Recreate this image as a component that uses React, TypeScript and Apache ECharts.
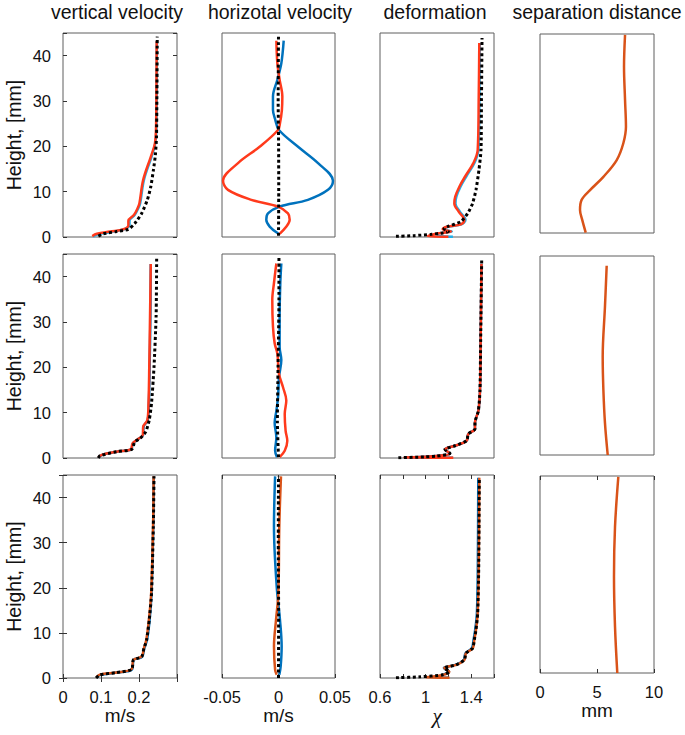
import React, { useEffect, useRef } from "react";
import * as echarts from "echarts";

// ---------- texts ----------
const columnTitles = ["vertical velocity", "horizotal velocity", "deformation", "separation distance"];
const heightLabel = "Height, [mm]";
const xAxisNames = ["m/s", "m/s", "χ", "mm"];
const heightTickLabels = ["0", "10", "20", "30", "40"];
const vvTickLabels = ["0", "0.1", "0.2"];
const hvTickLabels = ["-0.05", "0", "0.05"];
const defTickLabels = ["0.6", "1", "1.4"];
const sepTickLabels = ["0", "5", "10"];

// ---------- data: [value, height mm] ----------
// Row 1
const r1VvBlue = [[0.079, 0.1], [0.092, 0.6], [0.127, 1.1], [0.161, 1.7], [0.175, 2.6], [0.175, 3.6], [0.189, 4.9], [0.198, 6.3], [0.203, 7.4], [0.213, 12.6], [0.233, 17.7], [0.243, 20.7], [0.246, 25], [0.247, 35], [0.247, 43.2]];
const r1VvRed = [[0.077, 0.2], [0.089, 0.7], [0.124, 1.2], [0.159, 1.7], [0.172, 2.6], [0.172, 3.6], [0.187, 4.9], [0.196, 6.3], [0.201, 7.4], [0.211, 12.6], [0.231, 17.7], [0.242, 20.7], [0.245, 25], [0.246, 35], [0.2465, 43.2]];
const r1VvRef = [[0.093, 0.2], [0.106, 0.7], [0.141, 1.2], [0.172, 1.7], [0.189, 3.0], [0.207, 5.2], [0.222, 8.2], [0.231, 11.1], [0.238, 14.8], [0.243, 18], [0.246, 22], [0.247, 30], [0.248, 44.2]];

const r1HvBlue = [[0.0001, 0.7], [-0.0078, 2.3], [-0.0108, 3.8], [-0.0093, 5.2], [0.001, 6.7], [0.026, 8.2], [0.0438, 10.4], [0.0482, 12.4], [0.035, 16.3], [0.0173, 19.9], [0.0004, 23.6], [-0.0028, 25.8], [-0.0049, 28.0], [-0.0049, 31.0], [-0.001, 34.7], [0.0025, 38.3], [0.0046, 43.3]];
const r1HvRed = [[0.001, 0.7], [0.007, 2.3], [0.0099, 3.8], [0.0084, 5.2], [-0.0004, 6.7], [-0.024, 8.2], [-0.0447, 10.4], [-0.0491, 12.4], [-0.0358, 16.3], [-0.0167, 19.9], [-0.0004, 23.6], [0.0013, 25.1], [0.003, 28.0], [0.0034, 31.0], [0.001, 34.7], [-0.001, 38.3], [-0.0019, 43.3]];
const r1HvRef = [[0, 0.3], [0.0002, 10], [0.0001, 20], [-0.0003, 30], [0, 44.7]];

const r1DefBlue = [[1.24, 0.05], [1.12, 0.2], [1.1, 0.7], [1.23, 1.2], [1.16, 1.7], [1.2, 2.3], [1.315, 2.8], [1.35, 3.8], [1.3, 5.6], [1.262, 7.4], [1.27, 8.9], [1.306, 11.1], [1.358, 13.4], [1.428, 16.3], [1.463, 19.2], [1.472, 31], [1.475, 42.8]];
const r1DefRed = [[1.2, 0.05], [1.02, 0.15], [1.09, 0.7], [1.223, 1.2], [1.15, 1.7], [1.194, 2.3], [1.31, 2.8], [1.34, 3.8], [1.29, 5.6], [1.252, 7.4], [1.26, 8.9], [1.296, 11.1], [1.348, 13.4], [1.419, 16.3], [1.457, 19.2], [1.466, 31.0], [1.471, 42.8]];
const r1DefRef = [[0.74, 0.15], [0.9, 0.3], [1.05, 0.6], [1.15, 0.9], [1.2, 1.2], [1.16, 1.8], [1.194, 2.3], [1.31, 3.4], [1.369, 5.2], [1.412, 7.4], [1.442, 10.4], [1.468, 14.8], [1.486, 19.2], [1.49, 30], [1.495, 43.9]];

const r1Sep = [[4.01, 0.1], [3.71, 2.9], [3.51, 5.2], [3.65, 7.5], [4.39, 9.7], [5.56, 12.7], [6.73, 16.5], [7.31, 20.3], [7.54, 24.0], [7.46, 30.1], [7.37, 37.6], [7.46, 44.8]];

// Row 2
const r2VvBlue = [[0.094, 0.15], [0.103, 0.7], [0.142, 1.4], [0.179, 1.9], [0.184, 3.2], [0.197, 4.1], [0.211, 5.1], [0.212, 6.9], [0.223, 8.4], [0.226, 12.1], [0.228, 20.1], [0.23, 31.2], [0.231, 42.8]];
const r2VvRed = [[0.093, 0.15], [0.102, 0.7], [0.141, 1.4], [0.178, 1.9], [0.183, 3.2], [0.196, 4.1], [0.21, 5.1], [0.211, 6.9], [0.222, 8.4], [0.225, 12.1], [0.227, 20.1], [0.229, 31.2], [0.231, 42.8]];
const r2VvRef = [[0.093, 0], [0.097, 0.5], [0.141, 1.4], [0.181, 1.9], [0.189, 3.6], [0.203, 4.3], [0.218, 5.8], [0.227, 8.4], [0.233, 12.1], [0.2395, 20.1], [0.245, 31.2], [0.2465, 44.1]];

const r2HvBlue = [[-0.0013, 0.2], [-0.003, 1.6], [-0.0019, 4.5], [-0.0034, 7.8], [-0.0019, 10.4], [-0.0004, 13.4], [0.0004, 17.8], [0.0025, 21.6], [0.001, 24.5], [0.001, 31.2], [0.0016, 38.6], [0.0025, 42.9]];
const r2HvRed = [[0.001, 0.2], [0.0055, 1.6], [0.0078, 3.8], [0.0063, 6.0], [0.0055, 9.7], [0.0069, 12.7], [0.004, 15.6], [0.0004, 18.6], [-0.001, 23.0], [-0.0034, 25.3], [-0.0049, 29.0], [-0.0055, 34.9], [-0.004, 38.6], [-0.0019, 42.9]];
const r2HvRef = [[0, 0.2], [-0.001, 8], [-0.0004, 20], [0.0004, 35], [0.0004, 44.6]];

const r2DefBlue = [[1.24, 0.05], [0.82, 0.1], [1.0, 0.3], [1.097, 0.45], [1.214, 1.0], [1.17, 1.9], [1.258, 2.7], [1.36, 3.8], [1.375, 5.3], [1.433, 6.4], [1.433, 7.8], [1.463, 10.4], [1.477, 14.9], [1.483, 26], [1.49, 42.8]];
const r2DefRed = [[1.243, 0.05], [0.81, 0.1], [1.0, 0.3], [1.097, 0.45], [1.214, 1.0], [1.17, 1.9], [1.258, 2.7], [1.36, 3.8], [1.375, 5.3], [1.433, 6.4], [1.433, 7.8], [1.463, 10.4], [1.477, 14.9], [1.483, 26], [1.49, 42.8]];
const r2DefRef = [[0.761, 0.05], [1.0, 0.25], [1.097, 0.4], [1.214, 1.0], [1.17, 1.9], [1.258, 2.7], [1.36, 3.8], [1.375, 5.3], [1.433, 6.4], [1.433, 7.8], [1.463, 10.4], [1.477, 14.9], [1.483, 26], [1.492, 43.8]];

const r2Sep = [[5.94, 0], [5.7, 7.2], [5.56, 14.7], [5.5, 22.2], [5.7, 33.6], [5.85, 42.8]];

// Row 3
const r3VvBlue = [[0.088, 0.1], [0.098, 0.7], [0.142, 1.2], [0.182, 1.9], [0.186, 4.0], [0.208, 4.7], [0.214, 6.6], [0.221, 8.4], [0.228, 12.9], [0.233, 18.8], [0.2375, 33.6], [0.239, 44.7]];
const r3VvOrange = [[0.088, 0.2], [0.098, 0.8], [0.141, 1.2], [0.181, 2.0], [0.185, 4.0], [0.207, 4.8], [0.213, 6.6], [0.219, 8.4], [0.226, 12.9], [0.232, 18.8], [0.237, 33.6], [0.2385, 44.7]];
const r3VvRef = [[0.087, 0], [0.097, 0.7], [0.141, 1.2], [0.181, 1.9], [0.185, 4.0], [0.207, 4.7], [0.213, 6.6], [0.22, 8.4], [0.227, 12.9], [0.233, 18.8], [0.2377, 33.6], [0.2395, 44.7]];

const r3HvBlue = [[0.0007, 0.7], [0.0019, 2.5], [0.0028, 7.0], [0.0013, 12.9], [-0.0016, 20.3], [-0.004, 33.6], [-0.003, 44.7]];
const r3HvOrange = [[-0.0016, 0.7], [-0.003, 1.8], [-0.004, 7.0], [-0.0022, 12.9], [-0.0001, 18.8], [0.0007, 33.6], [0.0022, 44.7]];
const r3HvRef = [[0, 0], [0.0001, 15], [-0.0002, 30], [0, 44.8]];

const r3DefBlue = [[1.2, 0.05], [1.1, 0.2], [1.15, 0.7], [1.205, 1.4], [1.16, 2.2], [1.26, 2.9], [1.335, 4.0], [1.35, 5.5], [1.405, 6.6], [1.42, 8.4], [1.435, 10.7], [1.45, 14.4], [1.458, 24.7], [1.462, 44.4]];
const r3DefOrange = [[1.21, 0.05], [1.0, 0.1], [1.15, 0.7], [1.208, 1.4], [1.164, 2.2], [1.267, 2.9], [1.34, 4.0], [1.354, 5.5], [1.413, 6.6], [1.427, 8.4], [1.442, 10.7], [1.457, 14.4], [1.466, 24.7], [1.471, 44.4]];
const r3DefRef = [[0.74, 0.05], [0.95, 0.25], [1.15, 0.7], [1.208, 1.4], [1.164, 2.2], [1.267, 2.9], [1.34, 4.0], [1.354, 5.5], [1.413, 6.6], [1.427, 8.4], [1.442, 10.7], [1.457, 14.4], [1.466, 24.7], [1.471, 44.4]];

const r3Sep = [[6.78, 0], [6.58, 10.6], [6.49, 22], [6.58, 33.4], [6.87, 44.8]];

// ---------- styling / layout ----------
const RED = "#ff3a1c";
const BLUE = "#0072bd";
const CYAN = "#22b0ea";
const ORANGE = "#d95319";
const BLACK = "#000000";
const FONT = "'Liberation Sans', Arial, Helvetica, sans-serif";

const colLeft = [63, 222, 380, 540];
const colWidth = [114, 113, 114, 114];
const rowTop = [33, 254, 475];
const rowHeight = [204, 204, 203];
const sepTop = [34, 256, 476];
const sepHeight = [199, 199, 197];

const colAxis = [
  { min: 0, max: 0.3, interval: 0.1, labels: vvTickLabels },
  { min: -0.05, max: 0.05, interval: 0.05, labels: hvTickLabels },
  { min: 0.6, max: 1.6, interval: 0.2, labels: defTickLabels },
  { min: 0, max: 10, interval: 5, labels: sepTickLabels },
];

type Line = { data: number[][]; color: string; dotted?: boolean };
const panelLines: Line[][][] = [
  [
    [{ data: r1VvBlue, color: CYAN }, { data: r1VvRed, color: RED }, { data: r1VvRef, color: BLACK, dotted: true }],
    [{ data: r1HvBlue, color: BLUE }, { data: r1HvRed, color: RED }, { data: r1HvRef, color: BLACK, dotted: true }],
    [{ data: r1DefBlue, color: CYAN }, { data: r1DefRed, color: RED }, { data: r1DefRef, color: BLACK, dotted: true }],
    [{ data: r1Sep, color: ORANGE }],
  ],
  [
    [{ data: r2VvBlue, color: BLUE }, { data: r2VvRed, color: RED }, { data: r2VvRef, color: BLACK, dotted: true }],
    [{ data: r2HvBlue, color: BLUE }, { data: r2HvRed, color: RED }, { data: r2HvRef, color: BLACK, dotted: true }],
    [{ data: r2DefBlue, color: BLUE }, { data: r2DefRed, color: RED }, { data: r2DefRef, color: BLACK, dotted: true }],
    [{ data: r2Sep, color: ORANGE }],
  ],
  [
    [{ data: r3VvBlue, color: BLUE }, { data: r3VvOrange, color: ORANGE }, { data: r3VvRef, color: BLACK, dotted: true }],
    [{ data: r3HvBlue, color: BLUE }, { data: r3HvOrange, color: ORANGE }, { data: r3HvRef, color: BLACK, dotted: true }],
    [{ data: r3DefBlue, color: BLUE }, { data: r3DefOrange, color: ORANGE }, { data: r3DefRef, color: BLACK, dotted: true }],
    [{ data: r3Sep, color: ORANGE }],
  ],
];

function labelFor(labels: string[], v: number) {
  const hit = labels.find((l) => Math.abs(parseFloat(l) - v) < 1e-9);
  return hit === undefined ? "" : hit;
}

function buildOption() {
  const grids: any[] = [];
  const xAxes: any[] = [];
  const yAxes: any[] = [];
  const extraX: any[] = [];
  const extraY: any[] = [];
  const series: any[] = [];
  const tickStyle = { color: "#333333", width: 1 };

  for (let r = 0; r < 3; r++) {
    for (let c = 0; c < 4; c++) {
      const i = r * 4 + c;
      const isSep = c === 3;
      grids.push({
        left: colLeft[c],
        top: isSep ? sepTop[r] : rowTop[r],
        width: colWidth[c],
        height: isSep ? sepHeight[r] : rowHeight[r],
        show: true,
        borderColor: "#5f5f5f",
        borderWidth: 1,
        backgroundColor: "#ffffff",
      });
      const ax = colAxis[c];
      const bottomRow = r === 2;
      const xBase = {
        type: "value",
        gridIndex: i,
        min: ax.min,
        max: ax.max,
        interval: ax.interval,
        axisLine: { show: false },
        splitLine: { show: false },
        axisTick: { show: bottomRow, inside: true, length: 4, lineStyle: tickStyle },
      };
      xAxes.push({
        ...xBase,
        position: "bottom",
        axisLabel: {
          show: bottomRow,
          margin: 10,
          fontSize: 16.5,
          color: "#111111",
          fontFamily: FONT,
          formatter: (v: number) => labelFor(ax.labels, v),
        },
        name: bottomRow ? xAxisNames[c] : "",
        nameLocation: "middle",
        nameGap: c === 2 ? 27 : 28,
        nameTextStyle:
          c === 2
            ? { fontSize: 21, fontStyle: "italic", fontFamily: "'Liberation Serif', 'DejaVu Serif', serif", color: "#111111" }
            : { fontSize: 19, fontFamily: FONT, color: "#111111" },
      });
      if (bottomRow) {
        extraX.push({ ...xBase, position: "top", axisLabel: { show: false } });
      }
      const yBase = {
        type: "value",
        gridIndex: i,
        min: 0,
        max: 45,
        interval: 10,
        axisLine: { show: false },
        splitLine: { show: false },
        axisTick: { show: c === 0, inside: true, length: 4, lineStyle: tickStyle },
      };
      yAxes.push({
        ...yBase,
        position: "left",
        axisLabel: {
          show: c === 0,
          margin: 12,
          fontSize: 16.5,
          color: "#111111",
          fontFamily: FONT,
          formatter: (v: number) => labelFor(heightTickLabels, v),
        },
        name: c === 0 ? heightLabel : "",
        nameLocation: "middle",
        nameGap: 39,
        nameTextStyle: { fontSize: 19.5, fontFamily: FONT, color: "#111111" },
      });
      if (c === 0) {
        extraY.push({ ...yBase, position: "right", axisLabel: { show: false } });
      }
      for (const ln of panelLines[r][c]) {
        series.push({
          type: "line",
          xAxisIndex: i,
          yAxisIndex: i,
          data: ln.data,
          symbol: "none",
          showSymbol: false,
          smooth: ln.dotted ? 0.2 : 0.35,
          silent: true,
          lineStyle: ln.dotted
            ? { color: ln.color, width: 3, type: [3, 2.6], cap: "butt" }
            : { color: ln.color, width: 2.5 },
        });
      }
    }
  }

  const titleX = [117, 280, 435, 597];
  const graphic = columnTitles.map((t, c) => ({
    type: "text",
    x: titleX[c],
    y: 12,
    silent: true,
    style: {
      text: t,
      fill: "#111111",
      font: `19.5px ${FONT}`,
      align: "center",
      verticalAlign: "middle",
      textAlign: "center",
      textVerticalAlign: "middle",
    },
  }));

  return {
    animation: false,
    backgroundColor: "#ffffff",
    grid: grids,
    xAxis: [...xAxes, ...extraX],
    yAxis: [...yAxes, ...extraY],
    series,
    graphic,
  };
}

export default function App() {
  const ref = useRef<HTMLDivElement>(null);
  useEffect(() => {
    if (!ref.current) return;
    const chart = echarts.init(ref.current, undefined, { renderer: "svg" });
    chart.setOption(buildOption() as any);
    return () => chart.dispose();
  }, []);
  return (
    <div
      ref={ref}
      style={{ position: "fixed", left: 0, top: 0, width: 685, height: 735, background: "#fff" }}
    />
  );
}
